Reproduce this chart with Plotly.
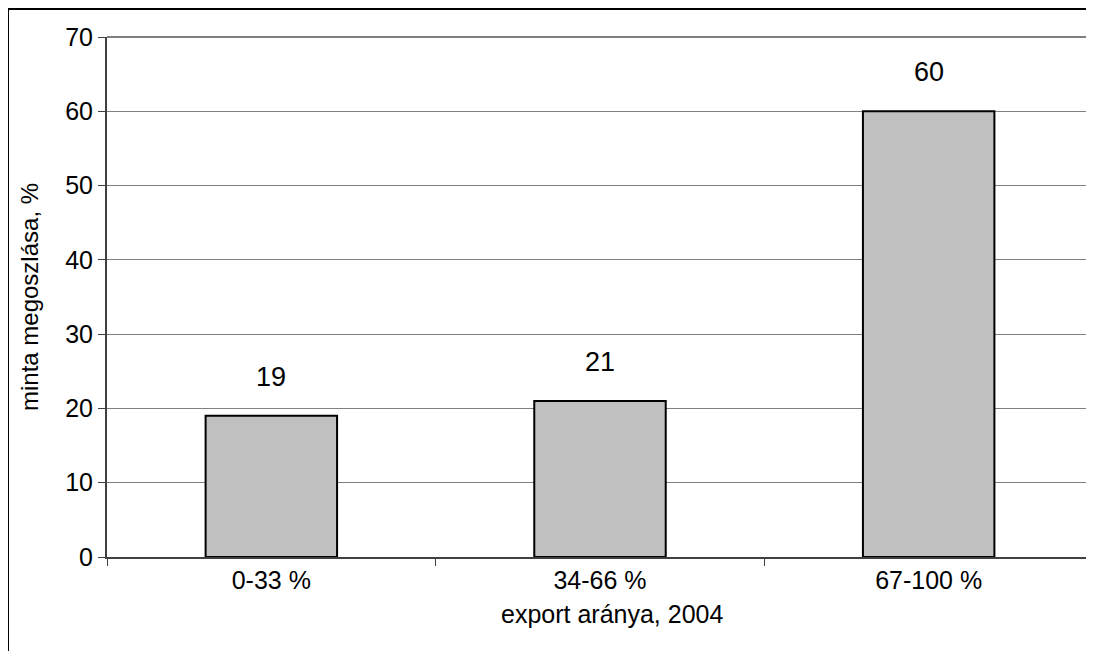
import plotly.graph_objects as go

categories = ["0-33 %", "34-66 %", "67-100 %"]
values = [19, 21, 60]
y_ticks = [0, 10, 20, 30, 40, 50, 60, 70]

FONT = "Liberation Sans, Arial, sans-serif"

fig = go.Figure()
fig.add_trace(go.Bar(
    x=categories, y=values,
    marker=dict(color="#C0C0C0", line=dict(color="#000000", width=2)),
    width=0.4,
    hoverinfo="skip",
))

for c, v in zip(categories, values):
    fig.add_annotation(x=c, y=v, text=str(v), showarrow=False,
                       yshift=39, font=dict(family=FONT, size=27, color="#000000"))

# x axis title as annotation (centered slightly right of the plot centre, as in the original)
fig.add_annotation(xref="paper", yref="paper", x=0.5, y=0, xshift=12, yshift=-73,
                   text="export aránya, 2004", showarrow=False,
                   font=dict(family=FONT, size=25, color="#000000"))

fig.update_layout(
    width=1086, height=643,
    margin=dict(l=99, r=1, t=29, b=94),
    paper_bgcolor="white", plot_bgcolor="white",
    showlegend=False,
    font=dict(family=FONT, size=25, color="#000000"),
    xaxis=dict(
        type="category", tickson="boundaries", ticks="outside", ticklen=7,
        tickcolor="#404040", tickwidth=1,
        showline=True, linecolor="#404040", linewidth=2,
        showgrid=False,
        tickfont=dict(family=FONT, size=25),
    ),
    yaxis=dict(
        range=[0, 70], tickvals=y_ticks, ticks="outside", ticklen=7,
        tickcolor="#404040", tickwidth=1,
        showline=True, linecolor="#404040", linewidth=2,
        showgrid=True, gridcolor="#808080", gridwidth=1,
        zeroline=False,
        tickfont=dict(family=FONT, size=25),
        title=dict(text="minta megoszlása, %", font=dict(family=FONT, size=24), standoff=20),
    ),
)

# top and right plot border (grey)
fig.add_shape(type="line", xref="paper", yref="paper", x0=1, x1=1, y0=0, y1=1,
              line=dict(color="#808080", width=2))
fig.add_shape(type="line", xref="paper", yref="paper", x0=0, x1=1, y0=1, y1=1,
              line=dict(color="#808080", width=2))
# outer chart frame (black), cut by page edges on right and bottom
top_frame = 1 + 28 / 520
left_frame = -99 / 986
fig.add_shape(type="line", xref="paper", yref="paper", x0=left_frame, x1=1.2, y0=top_frame, y1=top_frame,
              line=dict(color="#000000", width=2))
fig.add_shape(type="line", xref="paper", yref="paper", x0=left_frame, x1=left_frame, y0=top_frame, y1=-0.3,
              line=dict(color="#000000", width=2))

fig.write_html("out.html")
